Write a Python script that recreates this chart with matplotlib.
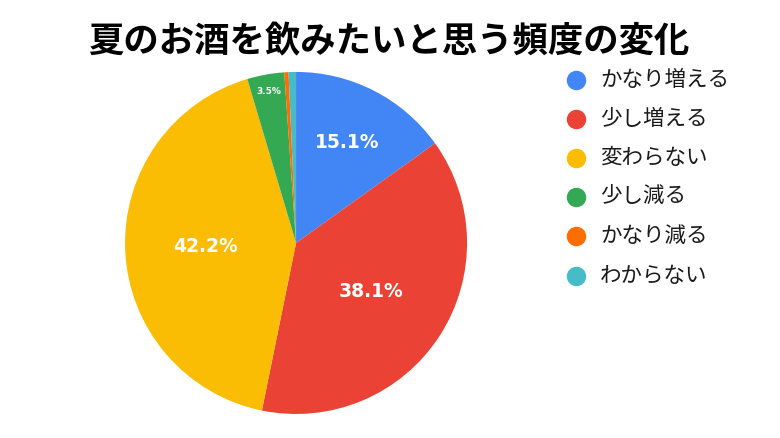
import numpy as np
import matplotlib.pyplot as plt

plt.rcParams['font.family'] = ['Noto Sans CJK JP', 'DejaVu Sans']

title = '夏のお酒を飲みたいと思う頻度の変化'
labels = ['かなり増える', '少し増える', '変わらない', '少し減る', 'かなり減る', 'わからない']
values = [15.1, 38.1, 42.2, 3.5, 0.4, 0.7]
colors = ['#4285F4', '#EA4335', '#FBBC04', '#34A853', '#FF6D01', '#46BDC6']

fig = plt.figure(figsize=(7.8, 4.38), dpi=100)
fig.patch.set_facecolor('white')

ax = fig.add_axes([0.1603, 0.0548, 0.4385, 0.781])
wedges, _ = ax.pie(values, colors=colors, startangle=90, counterclock=False,
                   wedgeprops=dict(linewidth=0))
ax.set_aspect('equal')
ax.set_xlim(-1, 1)
ax.set_ylim(-1, 1)

# label distance and size per slice (tiny slices get no label)
dist = [0.66, 0.52, 0.53, 0.9]
sizes = [13.5, 13.5, 13.5, 6.5]
for w, v, d, s in zip(wedges, values, dist, sizes):
    ang = np.deg2rad((w.theta1 + w.theta2) / 2)
    ax.text(d * np.cos(ang), d * np.sin(ang), f'{v}%', ha='center', va='center',
            color='white', fontsize=s, fontweight='bold', family=['DejaVu Sans'])

fig.text(389 / 780, 0.905, title, ha='center', va='center', fontsize=25.5, fontweight='bold')

y0 = 0.817
for i, (lab, c) in enumerate(zip(labels, colors)):
    y = y0 - i * 0.0892
    fig.add_artist(plt.Line2D([576 / 780], [y], marker='o', markersize=13, color=c,
                              linestyle='none', transform=fig.transFigure))
    fig.text(600 / 780, y, lab, ha='left', va='center', fontsize=15.5, color='#1a1a1a')

fig.savefig('out.png', dpi=100)
